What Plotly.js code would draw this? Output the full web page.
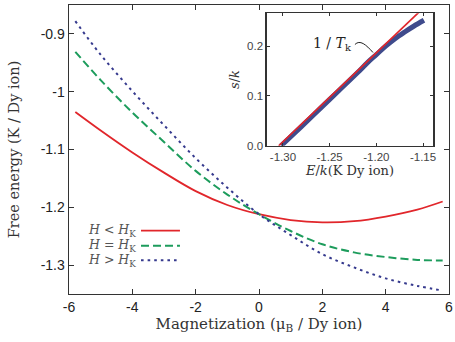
<!DOCTYPE html>
<html>
<head>
<meta charset="utf-8">
<script src="https://cdn.plot.ly/plotly-3.0.1.min.js"></script>
<style>
  html, body { margin: 0; padding: 0; background: #fff; }
  #chart { width: 455px; height: 342px; }
</style>
</head>
<body>
<div id="chart"></div>
<script>
// Free energy versus magnetization for three fields around H_K
const magnetization = [-5.8, -5, -4, -3, -2, -1, 0, 1, 2, 3, 4, 5, 5.8];
const energyBelow = [-1.035, -1.067, -1.105, -1.140, -1.172, -1.196, -1.212, -1.222, -1.226, -1.224, -1.216, -1.204, -1.190];
const energyAt    = [-0.931, -0.980, -1.036, -1.087, -1.137, -1.178, -1.212, -1.241, -1.264, -1.278, -1.286, -1.291, -1.292];
const energyAbove = [-0.878, -0.936, -0.999, -1.058, -1.115, -1.166, -1.212, -1.248, -1.281, -1.304, -1.323, -1.336, -1.344];

// Microcanonical entropy s/k against energy E/k (inset)
const insetEnergy  = [-1.302, -1.28, -1.26, -1.24, -1.22, -1.21, -1.20, -1.19, -1.18, -1.17, -1.16, -1.149];
const insetEntropy = [0.000, 0.039, 0.075, 0.111, 0.147, 0.166, 0.183, 0.200, 0.215, 0.228, 0.240, 0.252];
// Tangent line of slope 1/T_k
const tangentEnergy  = [-1.3045, -1.150];
const tangentEntropy = [0.000, 0.276];

const mainXTicks = [-6, -4, -2, 0, 2, 4, 6];
const mainXLabels = ['-6', '-4', '-2', '0', '2', '4', '6'];
const mainYTicks = [-1.3, -1.2, -1.1, -1.0, -0.9];
const mainYLabels = ['-1.3', '-1.2', '-1.1', '-1', '-0.9'];
const insetXTicks = [-1.30, -1.25, -1.20, -1.15];
const insetXLabels = ['-1.30', '-1.25', '-1.20', '-1.15'];
const insetYTicks = [0.0, 0.1, 0.2];
const insetYLabels = ['0.0', '0.1', '0.2'];

const legendLabels = [
  '<i>H</i> &lt; <i>H</i><sub>K</sub>',
  '<i>H</i> = <i>H</i><sub>K</sub>',
  '<i>H</i> &gt; <i>H</i><sub>K</sub>'
];

const RED = '#e1262b';
const GREEN = '#1d9c5c';
const BLUE = '#363a8e';
const INSET_BLUE = '#3f4b8c';
const SANS = 'Liberation Sans';
const SERIF = 'DejaVu Serif';
const GREENDASH = '8px,4px';
const BLUEDOT = '2.6px,4px';

const traces = [
  { x: magnetization, y: energyBelow, mode: 'lines', line: { color: RED, width: 1.8, shape: 'spline' }, xaxis: 'x', yaxis: 'y' },
  { x: magnetization, y: energyAt, mode: 'lines', line: { color: GREEN, width: 2, dash: GREENDASH, shape: 'spline' }, xaxis: 'x', yaxis: 'y' },
  { x: magnetization, y: energyAbove, mode: 'lines', line: { color: BLUE, width: 2, dash: BLUEDOT, shape: 'spline' }, xaxis: 'x', yaxis: 'y' },
  { x: insetEnergy, y: insetEntropy, mode: 'lines', line: { color: INSET_BLUE, width: 5, shape: 'spline' }, xaxis: 'x2', yaxis: 'y2' },
  { x: tangentEnergy, y: tangentEntropy, mode: 'lines', line: { color: RED, width: 1.7 }, xaxis: 'x2', yaxis: 'y2' }
];

const frame = { showline: true, linecolor: '#333', linewidth: 1.4, mirror: 'ticks', ticks: 'inside', tickcolor: '#333', showgrid: false, zeroline: false };

const legendRows = [0.219, 0.167, 0.1166];
const legendStyles = [
  { color: RED, width: 1.8 },
  { color: GREEN, width: 2, dash: GREENDASH },
  { color: BLUE, width: 2, dash: BLUEDOT }
];

const annotations = legendLabels.map((t, i) => ({
  xref: 'paper', yref: 'paper', x: 0.181, y: legendRows[i], xanchor: 'right', yanchor: 'middle',
  text: t, showarrow: false, font: { family: SERIF, size: 12.5, color: '#555' }
}));
annotations.push({
  xref: 'x2', yref: 'y2', x: -1.2475, y: 0.205, xanchor: 'center', yanchor: 'middle',
  text: '1 / <i>T</i><sub>k</sub>', showarrow: false, font: { family: SERIF, size: 14, color: '#222' }
});

const shapes = legendRows.map((yy, i) => ({
  type: 'line', xref: 'paper', yref: 'paper', x0: 0.1895, x1: 0.292, y0: yy, y1: yy, line: legendStyles[i]
}));
shapes.push({
  type: 'path', xref: 'x2', yref: 'y2',
  path: 'M -1.2229,0.2034 C -1.2176,0.2135 -1.2111,0.2034 -1.2036,0.1873',
  line: { color: '#222', width: 1 }
});

const layout = {
  width: 455, height: 342,
  margin: { l: 69, r: 6, t: 5, b: 48 },
  paper_bgcolor: '#fff', plot_bgcolor: '#fff',
  showlegend: false,
  xaxis: Object.assign({}, frame, {
    range: [-6, 6], tickvals: mainXTicks, ticktext: mainXLabels, ticklen: 5,
    tickfont: { family: SANS, size: 14, color: '#222' },
    title: { text: 'Magnetization (μ<sub>B</sub> / Dy ion)', font: { family: SERIF, size: 15, color: '#333' }, standoff: 4 }
  }),
  yaxis: Object.assign({}, frame, {
    range: [-1.35, -0.85], tickvals: mainYTicks, ticktext: mainYLabels, ticklen: 5,
    tickfont: { family: SANS, size: 14, color: '#222' },
    title: { text: 'Free energy (K / Dy ion)', font: { family: SERIF, size: 14.5, color: '#333' }, standoff: 17 }
  }),
  xaxis2: Object.assign({}, frame, {
    domain: [0.520, 0.9587], anchor: 'y2', linewidth: 1.2,
    range: [-1.3175, -1.139], tickvals: insetXTicks, ticktext: insetXLabels, ticklen: 3,
    tickfont: { family: SANS, size: 11.5, color: '#444' },
    title: { text: '<i>E</i>/<i>k</i>(K Dy ion)', font: { family: SERIF, size: 13, color: '#333' }, standoff: 2 }
  }),
  yaxis2: Object.assign({}, frame, {
    domain: [0.513, 0.9713], anchor: 'x2', linewidth: 1.2,
    range: [0, 0.266], tickvals: insetYTicks, ticktext: insetYLabels, ticklen: 3,
    tickfont: { family: SANS, size: 11.5, color: '#444' },
    title: { text: '<i>s</i>/<i>k</i>', font: { family: SERIF, size: 13, color: '#333' }, standoff: 4 }
  }),
  annotations: annotations,
  shapes: shapes
};

Plotly.newPlot('chart', traces, layout, { displayModeBar: false, staticPlot: true });
</script>
</body>
</html>
